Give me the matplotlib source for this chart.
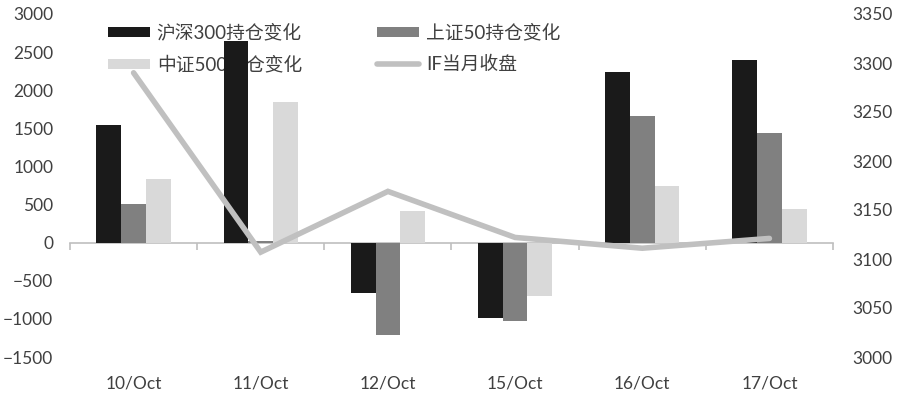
import matplotlib
matplotlib.use('Agg')
import matplotlib.pyplot as plt
import numpy as np

plt.rcParams['font.family'] = ['Lato', 'Noto Sans CJK SC', 'DejaVu Sans']

categories = ['10/Oct', '11/Oct', '12/Oct', '15/Oct', '16/Oct', '17/Oct']
hs300 = [1550, 2650, -655, -985, 2245, 2400]
sz50 = [510, 20, -1210, -1030, 1660, 1435]
zz500 = [840, 1845, 410, -705, 740, 440]
if_close = [3290, 3107, 3169, 3122, 3111, 3121]
series_names = ['沪深300持仓变化', '上证50持仓变化', '中证500持仓变化', 'IF当月收盘']
left_ticks = list(range(-1500, 3001, 500))
right_ticks = list(range(3000, 3351, 50))

txt = '#404040'
axis_c = '#bfbfbf'

fig = plt.figure(figsize=(9, 3.96), dpi=100)
ax = fig.add_axes([70/900, 1-357/396, (833-70)/900, (357-14)/396])
x = np.arange(len(categories))
w = 0.195
b1 = ax.bar(x - w, hs300, w, color='#1a1a1a', zorder=3)
b2 = ax.bar(x, sz50, w, color='#808080', zorder=3)
b3 = ax.bar(x + w, zz500, w, color='#d9d9d9', zorder=3)
ax.set_xlim(-0.5, len(categories) - 0.5)
ax.set_ylim(left_ticks[0], left_ticks[-1])
ax.set_yticks(left_ticks)
ax.tick_params(axis='y', length=0, pad=12, labelsize=12.5, labelcolor=txt)
for s in ['top', 'left', 'right']:
    ax.spines[s].set_visible(False)
ax.spines['bottom'].set_position(('data', 0))
ax.spines['bottom'].set_color(axis_c)
ax.spines['bottom'].set_linewidth(1.2)
ax.set_xticks(np.arange(-0.5, len(categories), 1))
ax.set_xticklabels([])
ax.tick_params(axis='x', length=5, width=1.2, color=axis_c, direction='out')

sec = ax.secondary_xaxis('bottom')
sec.set_xticks(x, categories)
sec.tick_params(length=0, pad=13, labelsize=12.5, labelcolor=txt)
sec.spines['bottom'].set_visible(False)

ax2 = ax.twinx()
ln, = ax2.plot(x, if_close, color='#c0c0c0', lw=4, solid_capstyle='round', solid_joinstyle='miter')
ax2.set_ylim(right_ticks[0], right_ticks[-1])
ax2.set_yticks(right_ticks)
ax2.tick_params(axis='y', length=0, pad=14, labelsize=12.5, labelcolor=txt)
for s in ax2.spines.values():
    s.set_visible(False)

leg = ax.legend([b1, b3, b2, ln], [series_names[0], series_names[2], series_names[1], series_names[3]],
                ncol=2, frameon=False, loc='upper left',
                bbox_to_anchor=(108/900, 1-24/396), bbox_transform=fig.transFigure,
                borderaxespad=0, borderpad=0, fontsize=13.5, handlelength=2.25, handleheight=0.5,
                handletextpad=0.35, columnspacing=4.0, labelspacing=0.75, labelcolor=txt)
leg.set_zorder(1)

fig.savefig('out.png', dpi=100)
